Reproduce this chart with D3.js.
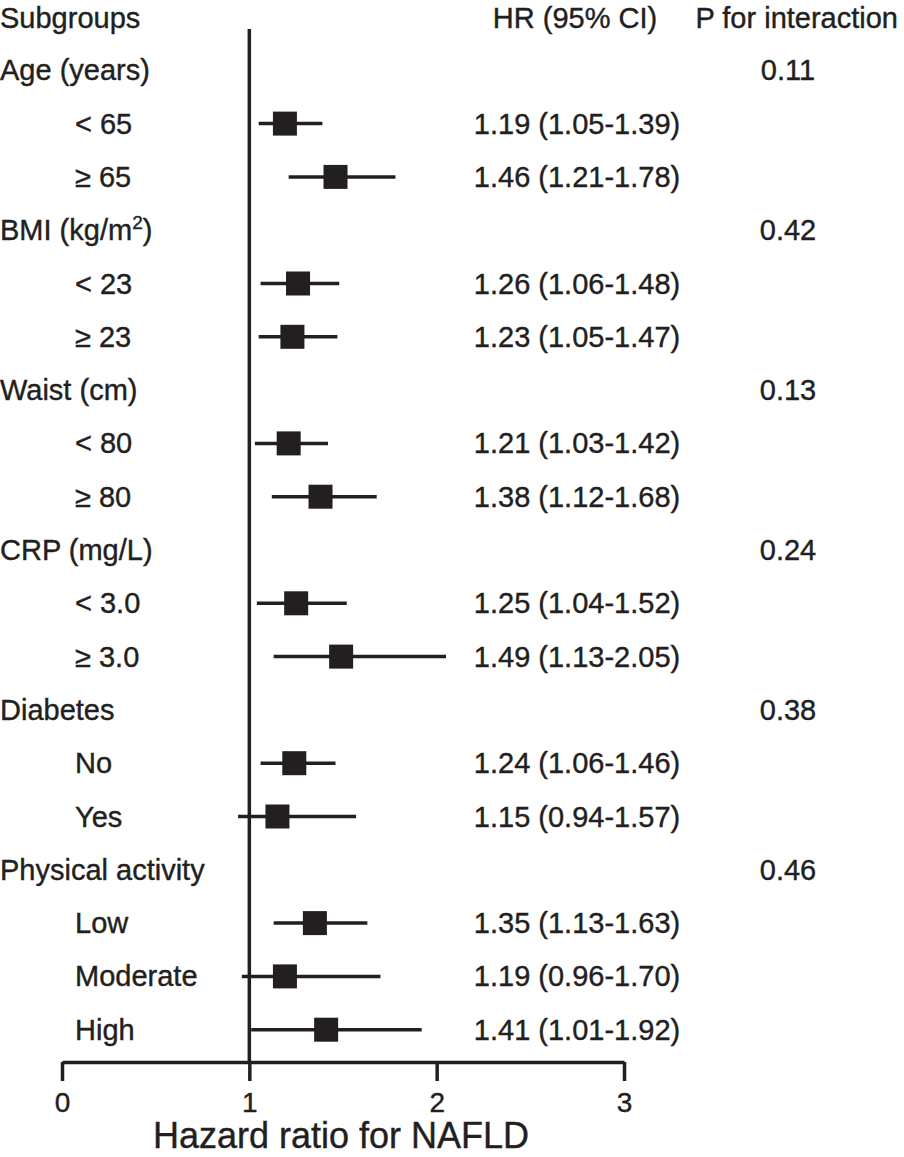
<!DOCTYPE html>
<html>
<head>
<meta charset="utf-8">
<script src="https://cdn.jsdelivr.net/npm/d3@7"></script>
<style>
  body { margin: 0; background: #fff; }
  text { font-family: "Liberation Sans", Arial, sans-serif; fill: #231f20; stroke: #231f20; stroke-width: 0.4px; }
</style>
</head>
<body>
<div id="chart"></div>
<script>
// data
const groupNames = ["Age (years)", "BMI (kg/m2)", "Waist (cm)", "CRP (mg/L)", "Diabetes", "Physical activity"]
const pValues = ["0.11", "0.42", "0.13", "0.24", "0.38", "0.46"]
const subLabels = [["< 65", "≥ 65"], ["< 23", "≥ 23"], ["< 80", "≥ 80"], ["< 3.0", "≥ 3.0"], ["No", "Yes"], ["Low", "Moderate", "High"]]
const hrValues = [[1.19, 1.46], [1.26, 1.23], [1.21, 1.38], [1.25, 1.49], [1.24, 1.15], [1.35, 1.19, 1.41]]
const ciLow = [[1.05, 1.21], [1.06, 1.05], [1.03, 1.12], [1.04, 1.13], [1.06, 0.94], [1.13, 0.96, 1.01]]
const ciHigh = [[1.39, 1.78], [1.48, 1.47], [1.42, 1.68], [1.52, 2.05], [1.46, 1.57], [1.63, 1.70, 1.92]]
const xTicks = [0, 1, 2, 3]

const W = 904, H = 1157
const INK = "#231f20"

const svg = d3.select("#chart").append("svg")
  .attr("width", W)
  .attr("height", H)

// build row list: header rows + subgroup rows
let rows = []
groupNames.forEach((g, i) => {
  rows.push({ type: "group", label: g, p: pValues[i] })
  subLabels[i].forEach((s, j) => {
    rows.push({ type: "sub", label: s, hr: hrValues[i][j], lo: ciLow[i][j], hi: ciHigh[i][j] })
  })
})

// scales
const x = d3.scaleLinear().domain([0, 3]).range([62, 624])
const y = d3.scaleLinear().domain([0, rows.length]).range([17, 17 + rows.length * 53.3])
const AXIS_Y = 1062

// column headers
svg.append("text").attr("x", 0).attr("y", y(0) + 11).attr("font-size", "29px").text("Subgroups")
svg.append("text").attr("x", 575).attr("y", y(0) + 11).attr("font-size", "29px")
  .attr("text-anchor", "middle").text("HR (95% CI)")
svg.append("text").attr("x", 898).attr("y", y(0) + 11).attr("font-size", "29px")
  .attr("text-anchor", "end").text("P for interaction")

// reference line at HR = 1
svg.append("line")
  .attr("x1", x(1)).attr("x2", x(1))
  .attr("y1", 29).attr("y2", AXIS_Y)
  .attr("stroke", INK).attr("stroke-width", 3.5)

const rowG = svg.selectAll("g.row")
  .data(rows)
  .enter().append("g")
  .attr("class", "row")
  .attr("transform", (d, i) => `translate(0, ${y(i + 1)})`)

// row labels
rowG.append("text")
  .attr("x", d => d.type === "group" ? 0 : 75)
  .attr("y", 10)
  .attr("font-size", "29px")
  .each(function(d) {
    const t = d3.select(this)
    if (d.label.indexOf("m2") > -1) {
      t.append("tspan").text("BMI (kg/m")
      t.append("tspan").attr("dy", -11).attr("font-size", "19px").text("2")
      t.append("tspan").attr("dy", 11).text(")")
    } else {
      t.text(d.label)
    }
  })

// p for interaction
rowG.filter(d => d.type === "group").append("text")
  .attr("x", 788).attr("y", 10)
  .attr("font-size", "29px")
  .attr("text-anchor", "middle")
  .text(d => d.p)

const subs = rowG.filter(d => d.type === "sub")

// confidence intervals
subs.append("line")
  .attr("x1", d => x(d.lo)).attr("x2", d => x(d.hi))
  .attr("y1", 0).attr("y2", 0)
  .attr("stroke", INK).attr("stroke-width", 3.5)

// point estimates
const SQ = 24
subs.append("rect")
  .attr("x", d => x(d.hr) - SQ / 2)
  .attr("y", -SQ / 2)
  .attr("width", SQ).attr("height", SQ)
  .attr("fill", INK)

// HR text
const fmt = d3.format(".2f")
subs.append("text")
  .attr("x", 577).attr("y", 10)
  .attr("font-size", "29px")
  .attr("text-anchor", "middle")
  .text(d => `${fmt(d.hr)} (${fmt(d.lo)}-${fmt(d.hi)})`)

// x axis
const xAxis = d3.axisBottom(x)
  .tickValues(xTicks)
  .tickFormat(d3.format("d"))
  .tickSize(19)
  .tickSizeOuter(0)
const axisG = svg.append("g")
  .attr("transform", `translate(0, ${AXIS_Y})`)
  .call(xAxis)
axisG.select(".domain").attr("stroke", INK).attr("stroke-width", 3.5)
axisG.selectAll(".tick line").attr("stroke", INK).attr("stroke-width", 3.5)
axisG.selectAll(".tick text")
  .attr("y", 50).attr("dy", 0)
  .attr("font-size", "28px")
  .attr("font-family", "Liberation Sans, Arial, sans-serif")
  .attr("fill", INK)

svg.append("text")
  .attr("x", 341).attr("y", 1148)
  .attr("font-size", "36px")
  .attr("text-anchor", "middle")
  .text("Hazard ratio for NAFLD")
</script>
</body>
</html>
